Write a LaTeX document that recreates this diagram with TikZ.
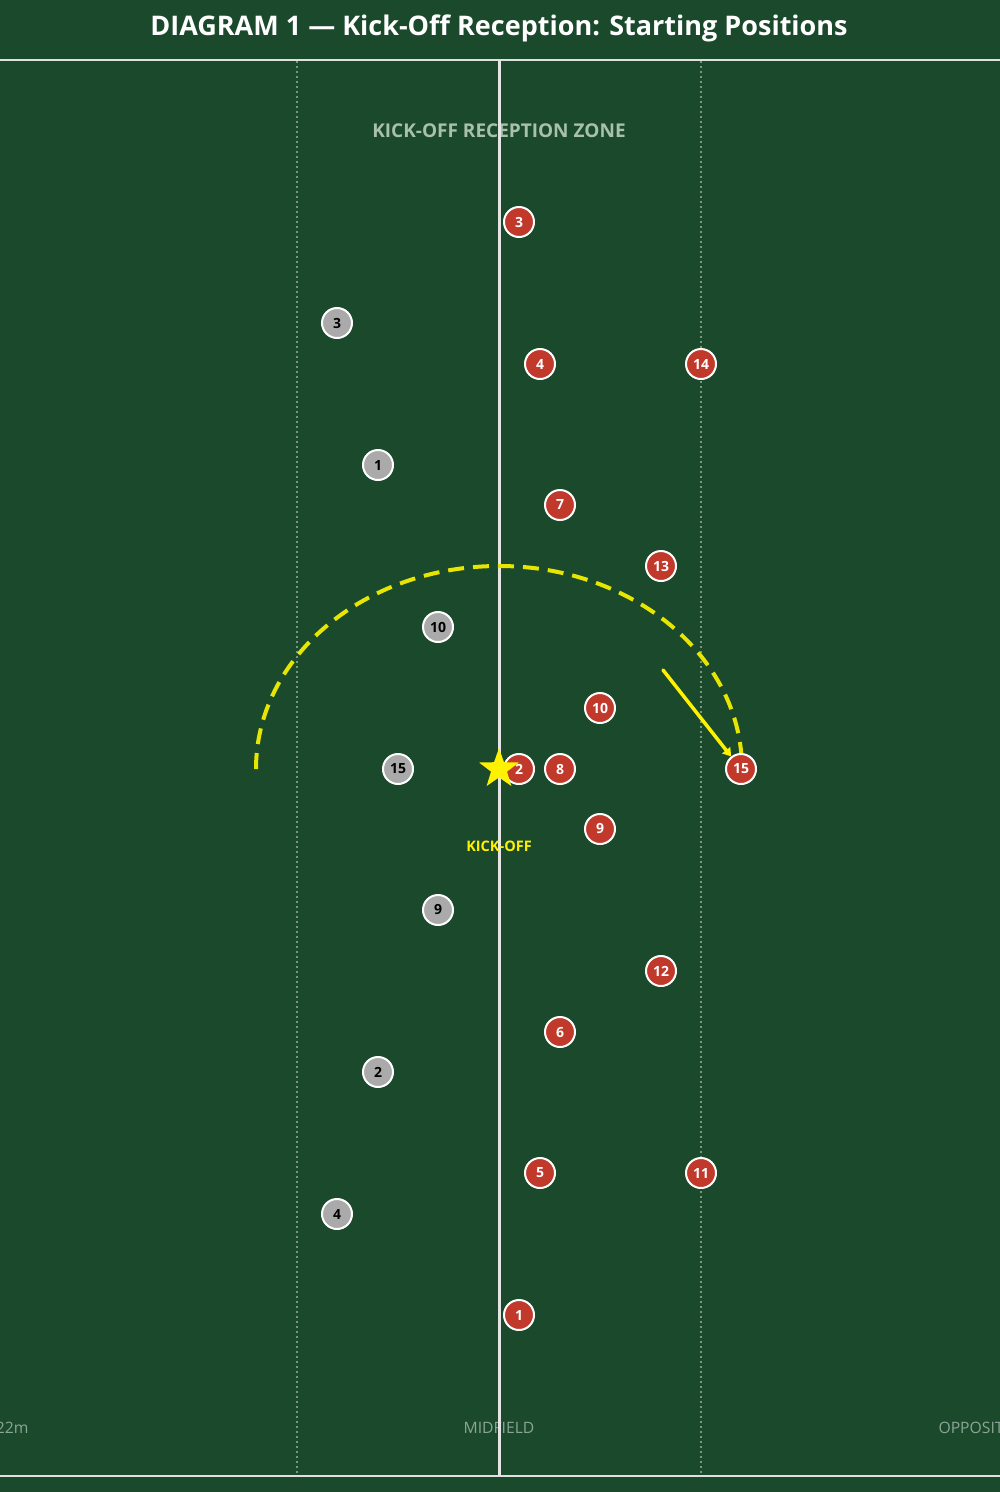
\documentclass[tikz,border=0pt]{standalone}
\usepackage{fontspec}
\setmainfont{Open Sans}
\usetikzlibrary{shapes.geometric,arrows.meta}
\definecolor{field}{RGB}{27,73,44}
\definecolor{redp}{RGB}{192,57,43}
\definecolor{grayp}{RGB}{170,170,170}
\definecolor{arcy}{RGB}{230,230,0}
\definecolor{dotl}{RGB}{120,150,130}
\definecolor{zonet}{RGB}{168,192,172}
\definecolor{labt}{RGB}{140,165,150}
\tikzset{
  player/.style={circle,draw=white,line width=2pt,minimum size=30pt,inner sep=0pt,font=\bfseries\fontsize{14}{14}\selectfont},
  red/.style={player,fill=redp,text=white},
  grey/.style={player,fill=grayp,text=black},
  dotline/.style={dotl,line width=1.3pt,dash pattern=on 2pt off 3pt},
  fieldlab/.style={text=labt,font=\fontsize{15.7}{16}\selectfont},
}
\begin{document}
\begin{tikzpicture}[x=1pt,y=-1pt]
\fill[field] (0,0) rectangle (1000,1492);
\useasboundingbox (0,0) rectangle (1000,1492);
% title
\node[text=white,font=\bfseries\fontsize{27}{27}\selectfont] (title) at (499,28) {DIAGRAM 1 — Kick-Off Reception: Starting Positions};
% field lines
\draw[dotline] (297,61) -- (297,1476);
\draw[dotline] (701,61) -- (701,1476);
% labels
\node[text=zonet,font=\bfseries\fontsize{19}{19}\selectfont] (zone) at (499,131) {KICK-OFF RECEPTION ZONE};
\node[fieldlab,anchor=east] (own) at (32,1428) {OWN 22m};
\node[fieldlab] (mid) at (499,1428) {MIDFIELD};
\node[fieldlab,anchor=west] (opp) at (935,1428) {OPPOSITION 22m};
\draw[white!88!black,line width=2pt] (0,60) -- (1000,60);
\draw[white!88!black,line width=1.5pt] (0,1476) -- (1000,1476);
\draw[white!90!black,line width=3pt] (499,61) -- (499,1476);
% kick arc
\draw[arcy,line width=4pt,dash pattern=on 16pt off 9pt] (256,769) arc[start angle=180,end angle=0,x radius=243pt,y radius=203pt];
% arrow
\coordinate (ar0) at (663,670);
% grey players
\node[grey] (g3) at (337,323) {3};
\node[grey] (g1) at (378,465) {1};
\node[grey] (g10) at (438,627) {10};
\node[grey] (g15) at (398,769) {15};
\node[grey] (g9) at (438,910) {9};
\node[grey] (g2) at (378,1072) {2};
\node[grey] (g4) at (337,1214) {4};
% red players
\node[red] (r3) at (519,222) {3};
\node[red] (r4) at (540,364) {4};
\node[red] (r14) at (701,364) {14};
\node[red] (r7) at (560,505) {7};
\node[red] (r13) at (661,566) {13};
\node[red] (r10) at (600,708) {10};
\node[red] (r2) at (519,769) {2};
\node[red] (r8) at (560,769) {8};
\node[red] (r15) at (741,769) {15};
\node[red] (r9) at (600,829) {9};
\node[red] (r12) at (661,971) {12};
\node[red] (r6) at (560,1032) {6};
\node[red] (r5) at (540,1173) {5};
\node[red] (r11) at (701,1173) {11};
\node[red] (r1) at (519,1315) {1};
\draw[yellow,line width=3.5pt,line cap=round,-{Triangle[length=8pt,width=10pt]}] (ar0) -- (r15);
% kick-off
\node[star,star points=5,star point ratio=2.5,minimum size=42pt,inner sep=0pt,fill=yellow] (ko) at (499,769) {};
\node[text=yellow,font=\bfseries\fontsize{14.5}{15}\selectfont] (kol) at (499,846) {KICK-OFF};
\end{tikzpicture}
\end{document}
